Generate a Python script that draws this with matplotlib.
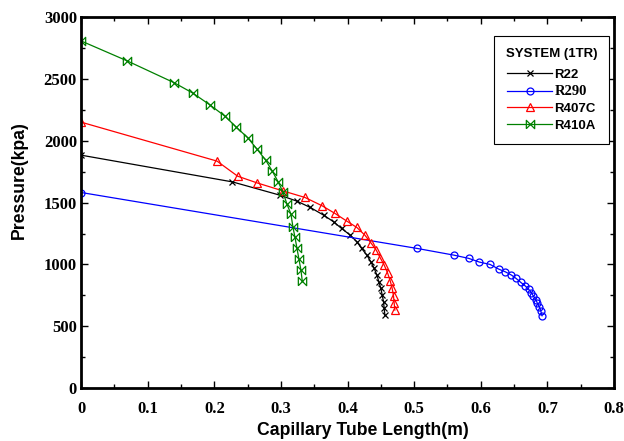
import matplotlib.pyplot as plt
from matplotlib.path import Path
from matplotlib.ticker import MultipleLocator

# capillary tube length (m) vs pressure (kPa)
r22_len = [0, 0.227, 0.298, 0.324, 0.344, 0.364, 0.379, 0.391, 0.404, 0.414, 0.421,
           0.429, 0.435, 0.440, 0.444, 0.447, 0.450, 0.452, 0.454, 0.455, 0.456]
r22_p = [1884, 1668, 1561, 1512, 1461, 1399, 1345, 1291, 1237, 1183, 1130,
         1075, 1021, 968, 914, 860, 806, 752, 698, 644, 590]

r290_len = [0, 0.504, 0.560, 0.582, 0.598, 0.614, 0.627, 0.637, 0.646, 0.653,
            0.660, 0.667, 0.672, 0.676, 0.679, 0.683, 0.685, 0.688, 0.690, 0.692]
r290_p = [1582, 1130, 1075, 1049, 1019, 1000, 962, 940, 914, 887,
          855, 825, 798, 771, 744, 712, 685, 657, 625, 585]

r407c_len = [0, 0.204, 0.235, 0.264, 0.303, 0.336, 0.362, 0.381, 0.399, 0.414, 0.426,
             0.435, 0.443, 0.449, 0.455, 0.460, 0.464, 0.467, 0.469, 0.470, 0.471]
r407c_p = [2151, 1836, 1714, 1660, 1595, 1542, 1474, 1413, 1350, 1299, 1237,
           1175, 1116, 1054, 995, 932, 868, 806, 744, 685, 631]

r410a_len = [0, 0.069, 0.140, 0.168, 0.194, 0.216, 0.233, 0.250, 0.264, 0.277, 0.287,
             0.296, 0.303, 0.309, 0.315, 0.318, 0.321, 0.324, 0.327, 0.330, 0.332]
r410a_p = [2808, 2647, 2469, 2385, 2288, 2199, 2110, 2026, 1933, 1844, 1755,
           1666, 1585, 1488, 1407, 1302, 1221, 1132, 1043, 954, 865]

xticks = [0, 0.1, 0.2, 0.3, 0.4, 0.5, 0.6, 0.7, 0.8]
xtick_labels = ['0', '0.1', '0.2', '0.3', '0.4', '0.5', '0.6', '0.7', '0.8']

# bowtie marker |X|
bowtie = Path([(-1, -1), (1, 1), (1, -1), (-1, 1), (-1, -1)],
              [Path.MOVETO, Path.LINETO, Path.LINETO, Path.LINETO, Path.LINETO])

fig = plt.figure(figsize=(6.24, 4.41), dpi=100)
ax = fig.add_axes([0.130, 0.120, 0.854, 0.841])

ax.plot(r22_len, r22_p, color='black', lw=0.9, marker='x', ms=5, mew=0.9, label='R22')
ax.plot(r290_len, r290_p, color='blue', lw=0.9, marker='o', ms=5, mfc='none', mew=0.9, label='R290')
ax.plot(r407c_len, r407c_p, color='red', lw=0.9, marker='^', ms=6, mfc='none', mew=0.9, label='R407C')
ax.plot(r410a_len, r410a_p, color='green', lw=0.9, marker=bowtie, ms=6, mfc='none', mew=0.9, label='R410A')

ax.set_xlim(0, 0.8)
ax.set_ylim(0, 3000)
ax.set_xticks(xticks)
ax.set_xticklabels(xtick_labels)
ax.xaxis.set_minor_locator(MultipleLocator(0.05))
ax.yaxis.set_major_locator(MultipleLocator(500))
ax.yaxis.set_minor_locator(MultipleLocator(250))
ax.tick_params(which='both', direction='in', top=True, right=True, width=1)
ax.tick_params(which='major', length=5)
ax.tick_params(which='minor', length=3)
ax.tick_params(axis='x', which='major', pad=9)
ax.tick_params(axis='y', which='major', pad=3)
for lab in ax.get_xticklabels() + ax.get_yticklabels():
    lab.set_fontfamily('Liberation Serif')
    lab.set_fontweight('bold')
    lab.set_fontsize(12)
for sp in ax.spines.values():
    sp.set_linewidth(2)

ax.set_xlabel('Capillary Tube Length(m)', fontfamily='Liberation Sans', fontweight='bold', fontsize=12.7)
ax.set_ylabel('Pressure(kpa)', fontfamily='Liberation Sans', fontweight='bold', fontsize=12.7)
ax.xaxis.set_label_coords(0.529, -0.092)
ax.yaxis.set_label_coords(-0.099, 0.56)

leg = ax.legend(title='SYSTEM (1TR)', loc='upper right', bbox_to_anchor=(0.991, 0.949),
                borderaxespad=0, numpoints=1, handlelength=3.4, fancybox=False,
                edgecolor='black', framealpha=1, borderpad=0.9, labelspacing=0.35,
                handletextpad=0.15,
                prop={'family': 'Liberation Sans', 'weight': 'bold', 'size': 9.5})
leg.get_title().set_fontfamily('Liberation Sans')
leg.get_title().set_fontweight('bold')
leg.get_title().set_fontsize(9.5)
leg.get_frame().set_linewidth(0.8)
leg.texts[1].set_fontfamily('Liberation Serif')
leg.texts[1].set_fontsize(10.5)
leg._legend_box.sep = 6

fig.savefig('out.png', dpi=100)
